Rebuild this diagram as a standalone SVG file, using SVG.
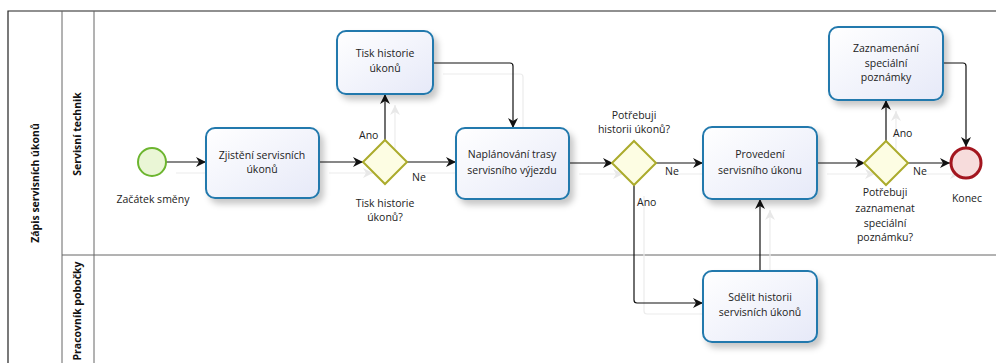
<svg xmlns="http://www.w3.org/2000/svg" width="996" height="363" viewBox="0 0 996 363">
  <style>
    .lbl { font-family: "Open Sans", "DejaVu Sans", sans-serif; font-size: 10.5px; fill: #222; }
    .tlbl { font-family: "Open Sans", "DejaVu Sans", sans-serif; font-size: 10.5px; fill: #222; text-anchor: middle; }
    .hdr { font-family: "Open Sans", "DejaVu Sans", sans-serif; font-size: 10.5px; font-weight: bold; fill: #111; text-anchor: middle; }
    .task { fill: url(#taskFill); stroke: #2379ad; stroke-width: 2; filter: url(#shadow); }
    .gw { fill: #fdfde3; stroke: #abab2c; stroke-width: 2; }
    .flow { fill: none; stroke: #111; stroke-width: 1.2; marker-end: url(#arrow); }
    .ghost { fill: none; stroke: #ececec; stroke-width: 1.2; marker-end: url(#ghostArrow); }
  </style>
  <defs>
    <linearGradient id="taskFill" x1="0" y1="0" x2="1" y2="1">
      <stop offset="0" stop-color="#ffffff"/>
      <stop offset="1" stop-color="#e6e9f8"/>
    </linearGradient>
    <filter id="shadow" x="-20%" y="-20%" width="150%" height="160%">
      <feDropShadow dx="4" dy="5" stdDeviation="3" flood-color="#000" flood-opacity="0.22"/>
    </filter>
    <marker id="arrow" viewBox="0 0 10 10" refX="10" refY="5" markerWidth="10" markerHeight="10" markerUnits="userSpaceOnUse" orient="auto">
      <path d="M0,0 L10,5 L0,10 L3,5 z" fill="#111"/>
    </marker>
    <marker id="ghostArrow" viewBox="0 0 10 10" refX="10" refY="5" markerWidth="10" markerHeight="10" markerUnits="userSpaceOnUse" orient="auto">
      <path d="M0,0 L10,5 L0,10 L3,5 z" fill="#e8e8e8"/>
    </marker>
  </defs>

  <rect width="996" height="363" fill="#ffffff"/>

  <!-- pool and lanes -->
  <g id="pool">
    <path d="M996,11 H8 V363" fill="none" stroke="#222" stroke-width="1.2"/>
    <line x1="62" y1="11" x2="62" y2="363" stroke="#666" stroke-width="1"/>
    <line x1="94" y1="11" x2="94" y2="363" stroke="#666" stroke-width="1"/>
    <line x1="62" y1="255" x2="996" y2="255" stroke="#666" stroke-width="1"/>
    <text class="hdr" transform="translate(39,183) rotate(-90)">Zápis servisních úkonů</text>
    <text class="hdr" transform="translate(81,134) rotate(-90)">Servisní technik</text>
    <text class="hdr" transform="translate(81,311) rotate(-90)">Pracovník pobočky</text>
  </g>

  <!-- faint connector shadows -->
  <g id="connector-shadows" transform="translate(10,11)">
    <path class="ghost" d="M166,162 H206"/>
    <path class="ghost" d="M319,162 H363"/>
    <path class="ghost" d="M385,140 V94"/>
    <path class="ghost" d="M407,162 H456"/>
    <path class="ghost" d="M433,63 H510 Q513,63 513,66 V128"/>
    <path class="ghost" d="M569,163 H613"/>
    <path class="ghost" d="M655,163 H703"/>
    <path class="ghost" d="M634,185 V300 Q634,303 637,303 H703"/>
    <path class="ghost" d="M760,271 V199"/>
    <path class="ghost" d="M817,163 H865"/>
    <path class="ghost" d="M886,141 V100"/>
    <path class="ghost" d="M907,163 H950"/>
  </g>

  <!-- sequence flows -->
  <g id="connectors">
    <path class="flow" d="M166,162 H206"/>
    <path class="flow" d="M319,162 H363"/>
    <path class="flow" d="M385,140 V94"/>
    <path class="flow" d="M407,162 H456"/>
    <path class="flow" d="M433,63 H510 Q513,63 513,66 V128"/>
    <path class="flow" d="M569,163 H613"/>
    <path class="flow" d="M655,163 H703"/>
    <path class="flow" d="M634,185 V300 Q634,303 637,303 H703"/>
    <path class="flow" d="M760,271 V199"/>
    <path class="flow" d="M817,163 H865"/>
    <path class="flow" d="M886,141 V100"/>
    <path class="flow" d="M907,163 H950"/>
    <path class="flow" d="M943,63 H963 Q966,63 966,66 V147"/>
    <text class="lbl" x="359" y="139">Ano</text>
    <text class="lbl" x="412" y="181">Ne</text>
    <text class="lbl" x="665" y="175">Ne</text>
    <text class="lbl" x="637" y="206">Ano</text>
    <text class="lbl" x="893" y="137">Ano</text>
    <text class="lbl" x="913" y="175">Ne</text>
  </g>

  <g id="start">
    <circle cx="152" cy="162" r="14" fill="#eaf6d6" stroke="#6cb52f" stroke-width="2"/>
    <text class="tlbl" x="153" y="203">Začátek směny</text>
  </g>

  <g id="task-zjisteni">
    <rect class="task" x="206" y="128" width="113" height="70" rx="9"/>
    <text class="tlbl" x="262" y="159">Zjistění servisních</text>
    <text class="tlbl" x="262" y="173">úkonů</text>
  </g>

  <g id="gw-tisk">
    <polygon class="gw" points="385,140 407,162 385,184 363,162"/>
    <text class="tlbl" x="385" y="207">Tisk historie</text>
    <text class="tlbl" x="385" y="221">úkonů?</text>
  </g>

  <g id="task-tisk">
    <rect class="task" x="337" y="31" width="96" height="63" rx="9"/>
    <text class="tlbl" x="385" y="57">Tisk historie</text>
    <text class="tlbl" x="385" y="72">úkonů</text>
  </g>

  <g id="task-planovani">
    <rect class="task" x="456" y="128" width="113" height="71" rx="9"/>
    <text class="tlbl" x="512" y="158">Naplánování trasy</text>
    <text class="tlbl" x="512" y="174">servisního výjezdu</text>
  </g>

  <g id="gw-historie">
    <polygon class="gw" points="634,141 656,163 634,185 612,163"/>
    <text class="tlbl" x="634" y="119">Potřebuji</text>
    <text class="tlbl" x="634" y="133">historii úkonů?</text>
  </g>

  <g id="task-provedeni">
    <rect class="task" x="703" y="127" width="114" height="72" rx="9"/>
    <text class="tlbl" x="760" y="158">Provedení</text>
    <text class="tlbl" x="760" y="174">servisního úkonu</text>
  </g>

  <g id="task-sdelit">
    <rect class="task" x="703" y="271" width="114" height="71" rx="9"/>
    <text class="tlbl" x="760" y="301">Sdělit historii</text>
    <text class="tlbl" x="760" y="316">servisních úkonů</text>
  </g>

  <g id="gw-poznamka">
    <polygon class="gw" points="886,141 908,163 886,185 864,163"/>
    <text class="tlbl" x="885" y="196">Potřebuji</text>
    <text class="tlbl" x="885" y="212">zaznamenat</text>
    <text class="tlbl" x="885" y="227">speciální</text>
    <text class="tlbl" x="885" y="241">poznámku?</text>
  </g>

  <g id="task-zaznamenani">
    <rect class="task" x="829" y="27" width="114" height="73" rx="9"/>
    <text class="tlbl" x="886" y="52">Zaznamenání</text>
    <text class="tlbl" x="886" y="67">speciální</text>
    <text class="tlbl" x="886" y="81">poznámky</text>
  </g>

  <g id="end">
    <circle cx="966" cy="163" r="15" fill="#f7dcdc" stroke="#a3161f" stroke-width="3"/>
    <text class="tlbl" x="967" y="202">Konec</text>
  </g>
</svg>
